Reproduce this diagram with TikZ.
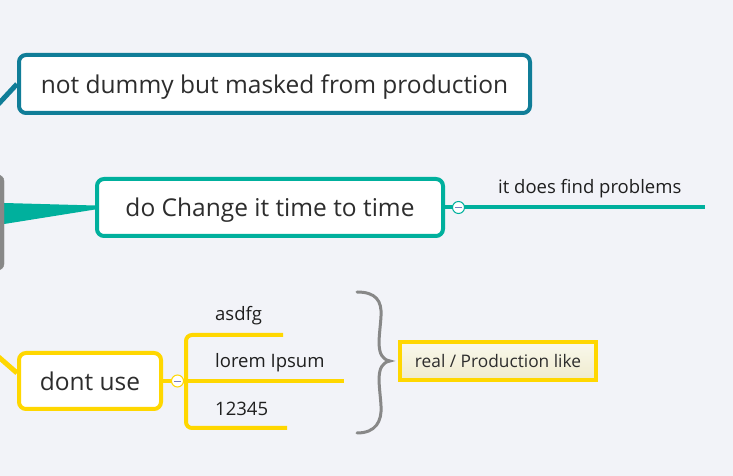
\documentclass[tikz,border=0pt]{standalone}
\usepackage{fontspec}
\setmainfont{Open Sans}
\usetikzlibrary{positioning, calc}
\definecolor{bgcol}{RGB}{242,243,248}
\definecolor{petrol}{RGB}{16,125,152}
\definecolor{teal2}{RGB}{0,176,157}
\definecolor{gold}{RGB}{255,215,0}
\definecolor{rootgray}{RGB}{136,136,136}
\definecolor{txt}{RGB}{45,45,45}
\definecolor{creamtop}{RGB}{249,248,236}
\definecolor{creambot}{RGB}{239,235,206}
\definecolor{minusblue}{RGB}{120,125,190}
\pgfdeclarelayer{bg}
\pgfdeclarelayer{lines}
\pgfsetlayers{bg,lines,main}

\begin{document}
\begin{tikzpicture}[x=1pt,y=1pt]
		\tikzstyle{topic} = [draw, line width=4, rounded corners=7, fill=white, text=txt, font=\fontsize{24.5}{29}\selectfont, inner sep=0, text height=19, text depth=0]
		\tikzstyle{leaf} = [anchor=base west, inner sep=0, text=black!88, font=\fontsize{18.5}{22}\selectfont]
		\tikzstyle{toggle} = [circle, draw, fill=white, line width=1, minimum size=12, inner sep=0, path picture={\draw [minusblue, line width=0.8] ([xshift=2.5]path picture bounding box.west) -- ([xshift=-2.5]path picture bounding box.east);}]
		\tikzstyle{branch} = [line width=4]
		\tikzstyle{brace} = [rootgray, line width=3, line cap=round]
		\clip (0,0) rectangle (733,476);
		\begin{pgfonlayer}{bg}
		\fill [bgcol] (0,0) rectangle (733,476);
		\end{pgfonlayer}
		% topics
		\node [fill=rootgray, draw=rootgray, rounded corners=6, minimum width=90, minimum height=95] (root) at (-41,253.5) {};
		\node [topic, draw=petrol, minimum width=511, minimum height=58] (mask) at (274.5,392) {not dummy but masked from production};
		\node [topic, draw=teal2, minimum width=346, minimum height=57] (change) at (270,268.5) {do Change it time to time\hspace{8pt}};
		\node [topic, draw=gold, minimum width=142, minimum height=56] (dontuse) at (90,95) {dont use};
		\node [toggle, draw=teal2, right=7 of change.east] (chtoggle) {};
		\node [toggle, draw=gold, right=8 of dontuse.east] (dutoggle) {};
		% leaves
		\node [leaf] (problems) at (498,282) {it does find problems};
		\node [leaf] (asdfg) at (215,155) {asdfg};
		\node [leaf] (lorem) at (215,108) {lorem Ipsum};
		\node [leaf] (numbers) at (215,60) {12345};
		\node [draw=gold, line width=4, top color=creamtop, bottom color=creambot, minimum width=196, minimum height=38, inner sep=0, text=txt, font=\fontsize{17.3}{20}\selectfont] (real) at (498,115) {real / Production like};
		\coordinate (maskin) at (-22,350);
		\coordinate (dontin) at (-22,137);
		\coordinate (probend) at (705,268.5);
		\coordinate (fork) at (186,95);
		\coordinate (asdfgend) at (283,141);
		\coordinate (loremend) at (344,95);
		\coordinate (numend) at (287,48);
		\coordinate (tip) at ($(real.west)+(-8,0)$);
		\begin{pgfonlayer}{lines}
		\draw [petrol, line width=5] (maskin) -- (mask.west);
		\fill [teal2] ($(root.east)+(0,19.5)$) -- ($(root.east)+(0,-1.5)$) -- ($(change.west)+(0,-2)$) -- ($(change.west)+(0,2)$) -- cycle;
		\draw [teal2, line width=4] (change.east) -- (probend);
		\draw [gold, line width=5] (dontin) -- ($(dontuse.west)+(0,8)$);
		\draw [branch, gold] (dontuse.east) -- (loremend);
		\draw [branch, gold, rounded corners=6] (asdfgend) -| (fork) |- (numend);
		\end{pgfonlayer}
		% summary brace
		\draw [brace] (357,184) .. controls (376,184) and (382,175) .. (381,160) .. controls (380,140) and (374,118) .. (tip) .. controls (374,112) and (380,90) .. (381,70) .. controls (382,55) and (376,43) .. (357,43);
\end{tikzpicture}
\end{document}
